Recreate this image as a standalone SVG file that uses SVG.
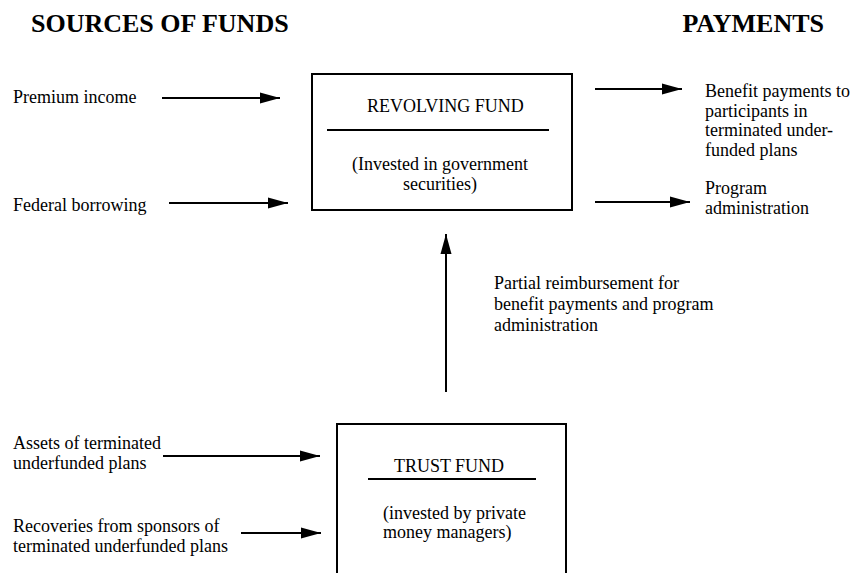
<svg xmlns="http://www.w3.org/2000/svg" width="857" height="573" viewBox="0 0 857 573">
<style>
text{font-family:"Liberation Serif","Times New Roman",serif;font-size:18px;fill:#000}
.h{font-weight:bold;font-size:26px}
.box{fill:#fff;stroke:#000;stroke-width:2}
.rule{stroke:#000;stroke-width:2}
.c{text-anchor:middle}
.arr{stroke:#000;stroke-width:2;fill:none;marker-end:url(#ah)}
</style>
<defs>
<marker id="ah" markerUnits="userSpaceOnUse" markerWidth="22" markerHeight="12" refX="20" refY="6" orient="auto">
<path d="M0,0.5 L20,6 L0,11.5 Z" fill="#000"/>
</marker>
</defs>
<g id="headings">
<text class="h" x="31" y="32">SOURCES OF FUNDS</text>
<text class="h" x="824" y="32" text-anchor="end">PAYMENTS</text>
</g>
<g id="revolving-fund">
<rect class="box" x="312" y="74" width="260" height="136"/>
<text x="367" y="112">REVOLVING FUND</text>
<line class="rule" x1="327" y1="130" x2="549" y2="130"/>
<text class="c" x="440" y="170">(Invested in government</text>
<text class="c" x="440" y="190">securities)</text>
</g>
<g id="trust-fund">
<rect class="box" x="337" y="424" width="229" height="160"/>
<text class="c" x="449" y="472">TRUST FUND</text>
<line class="rule" x1="368" y1="479" x2="536" y2="479"/>
<text x="383" y="519">(invested by private</text>
<text x="383" y="538">money managers)</text>
</g>
<g id="premium-income"><text x="13" y="103">Premium income</text></g>
<g id="federal-borrowing"><text x="13" y="211">Federal borrowing</text></g>
<g id="benefit-payments">
<text x="705" y="97">Benefit payments to</text>
<text x="705" y="117">participants in</text>
<text x="705" y="136">terminated under-</text>
<text x="705" y="156">funded plans</text>
</g>
<g id="program-administration">
<text x="705" y="194">Program</text>
<text x="705" y="214">administration</text>
</g>
<g id="assets">
<text x="13" y="449">Assets of terminated</text>
<text x="13" y="469">underfunded plans</text>
</g>
<g id="recoveries">
<text x="13" y="532">Recoveries from sponsors of</text>
<text x="13" y="552">terminated underfunded plans</text>
</g>
<g id="reimbursement-label">
<text x="494" y="289">Partial reimbursement for</text>
<text x="494" y="310">benefit payments and program</text>
<text x="494" y="331">administration</text>
</g>
<g id="connectors">
<line class="arr" x1="162" y1="98" x2="280" y2="98"/>
<line class="arr" x1="169" y1="203" x2="288" y2="203"/>
<line class="arr" x1="595" y1="89" x2="682" y2="89"/>
<line class="arr" x1="595" y1="202" x2="690" y2="202"/>
<line class="arr" x1="446" y1="392" x2="446" y2="234"/>
<line class="arr" x1="163" y1="456" x2="320" y2="456"/>
<line class="arr" x1="241" y1="533" x2="321" y2="533"/>
</g>
</svg>
